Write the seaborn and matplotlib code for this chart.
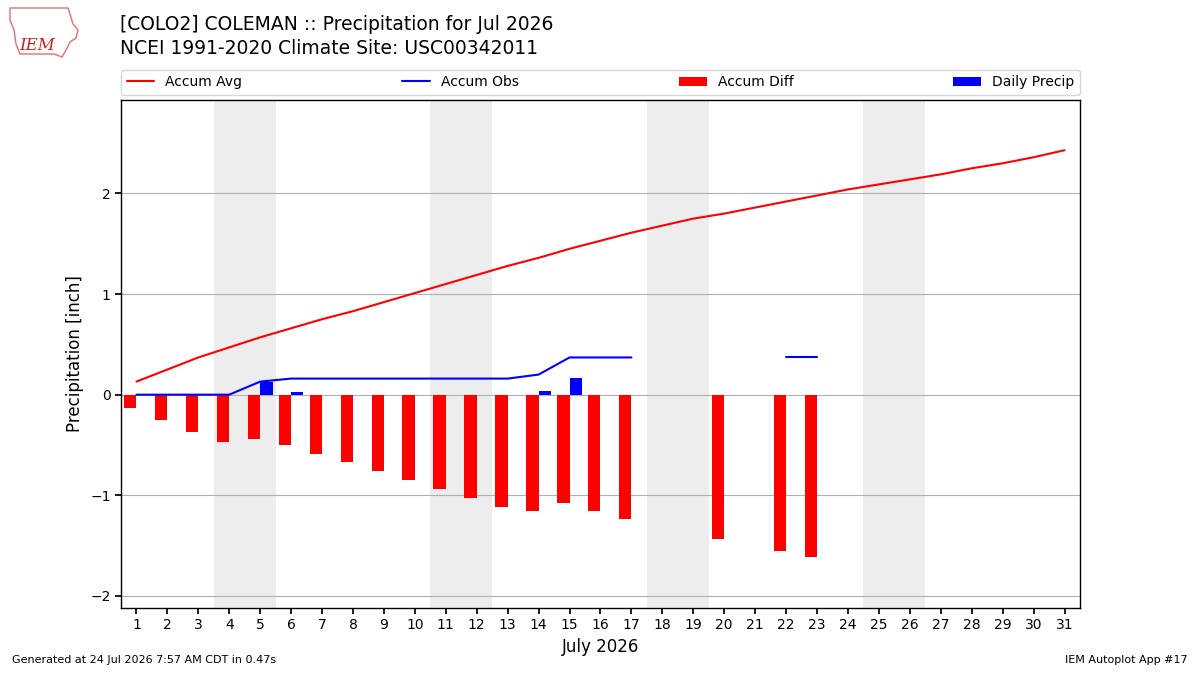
import numpy as np
import pandas as pd
import matplotlib
matplotlib.use("Agg")
import matplotlib.pyplot as plt
from matplotlib.patches import Polygon
import seaborn as sns

days = list(range(1, 32))
accum_avg = [0.13, 0.25, 0.37, 0.47, 0.57, 0.66, 0.75, 0.83, 0.92, 1.01,
             1.10, 1.19, 1.28, 1.36, 1.45, 1.53, 1.61, 1.68, 1.75, 1.80,
             1.86, 1.92, 1.98, 2.04, 2.09, 2.14, 2.19, 2.25, 2.30, 2.36, 2.43]
nan = np.nan
accum_obs = [0.0, 0.0, 0.0, 0.0, 0.13, 0.16, 0.16, 0.16, 0.16, 0.16,
             0.16, 0.16, 0.16, 0.20, 0.37, 0.37, 0.37, nan, nan, 0.37,
             nan, 0.37, 0.37, nan, nan, nan, nan, nan, nan, nan, nan]
diff_days = [1, 2, 3, 4, 5, 6, 7, 8, 9, 10, 11, 12, 13, 14, 15, 16, 17, 20, 22, 23]
accum_diff = [-0.13, -0.25, -0.37, -0.47, -0.44, -0.50, -0.59, -0.67, -0.76, -0.85,
              -0.94, -1.03, -1.12, -1.16, -1.08, -1.16, -1.24, -1.43, -1.55, -1.61]
precip_days = [5, 6, 14, 15]
daily_precip = [0.13, 0.03, 0.04, 0.17]
weekends = [(4, 5), (11, 12), (18, 19), (25, 26)]

title1 = "[COLO2] COLEMAN :: Precipitation for Jul 2026"
title2 = "NCEI 1991-2020 Climate Site: USC00342011"

RED = "#ff0000"
BLUE = "#0000ff"

sns.set_theme(style="white")
plt.rcParams["font.family"] = ["DejaVu Sans"]
for k in ["text.color", "axes.labelcolor", "xtick.color", "ytick.color"]:
    plt.rcParams[k] = "black"

fig = plt.figure(figsize=(12, 6.75), dpi=100)
ax = fig.add_axes([0.1008, 0.0993, 0.7992, 0.7527])

for a, b in weekends:
    ax.axvspan(a - 0.5, b + 0.5, color="#ededed", zorder=0, lw=0)

df_avg = pd.DataFrame({"day": days, "val": accum_avg})
sns.lineplot(data=df_avg, x="day", y="val", ax=ax, color=RED, lw=1.5,
             label="Accum Avg", zorder=3)

obs = pd.Series(accum_obs, index=days)
seg = obs.isna().cumsum()
first = True
for _, s in obs.dropna().groupby(seg[obs.notna()]):
    if len(s) < 2:
        continue
    d = pd.DataFrame({"day": s.index, "val": s.values})
    sns.lineplot(data=d, x="day", y="val", ax=ax, color=BLUE, lw=1.5,
                 label="Accum Obs" if first else None, zorder=3)
    first = False

ax.bar(diff_days, accum_diff, width=-0.4, align="edge", color=RED,
       label="Accum Diff", zorder=2, lw=0)
ax.bar(precip_days, daily_precip, width=0.4, align="edge", color=BLUE,
       label="Daily Precip", zorder=2, lw=0)

ax.set_xlim(0.5, 31.5)
ax.set_ylim(-2.12, 2.93)
ax.set_xticks(days)
ax.set_xticklabels([str(d) for d in days], fontsize=10)
ax.set_yticks([-2, -1, 0, 1, 2])
ax.tick_params(axis="y", labelsize=10, left=True, length=4, color="black")
ax.tick_params(axis="x", bottom=True, length=4, color="black")
ax.grid(axis="y", color="#b0b0b0", lw=0.8, zorder=1)
ax.set_axisbelow(True)
for sp in ax.spines.values():
    sp.set_color("black")
    sp.set_linewidth(1.0)
ax.set_xlabel("July 2026", fontsize=12)
ax.set_ylabel("Precipitation [inch]", fontsize=12)

handles, labels = ax.get_legend_handles_labels()
ax.legend(handles, labels, loc="lower left", bbox_to_anchor=(0, 1.01, 1, 0.05),
          mode="expand", ncol=4, fontsize=10, frameon=True, borderaxespad=0,
          handlelength=2.0)

fig.text(0.1, 1 - 25 / 675, title1, fontsize=13.5, va="center", ha="left")
fig.text(0.1, 1 - 48 / 675, title2, fontsize=13.5, va="center", ha="left")

# simple logo approximation (state outline + text)
outline_px = [(10, 8), (68, 8), (70, 14), (73, 24), (78, 30), (76, 38),
              (70, 42), (66, 50), (62, 57), (54, 54), (20, 54), (16, 44),
              (14, 30), (10, 20)]
outline = [(x / 1200, 1 - y / 675) for x, y in outline_px]
fig.patches.append(Polygon(outline, closed=True, fill=False, edgecolor="#e07070",
                           lw=1.0, transform=fig.transFigure, figure=fig))
fig.text(37 / 1200, 1 - 45 / 675, "IEM", fontsize=12, color="#d62020",
         family="DejaVu Serif", style="italic", ha="center", va="center")
fig.text(0.01, 0.015, "Generated at 24 Jul 2026 7:57 AM CDT in 0.47s", fontsize=8,
         ha="left", va="bottom")
fig.text(0.99, 0.015, "IEM Autoplot App #17", fontsize=8, ha="right", va="bottom")

fig.savefig("out.png", dpi=100)
